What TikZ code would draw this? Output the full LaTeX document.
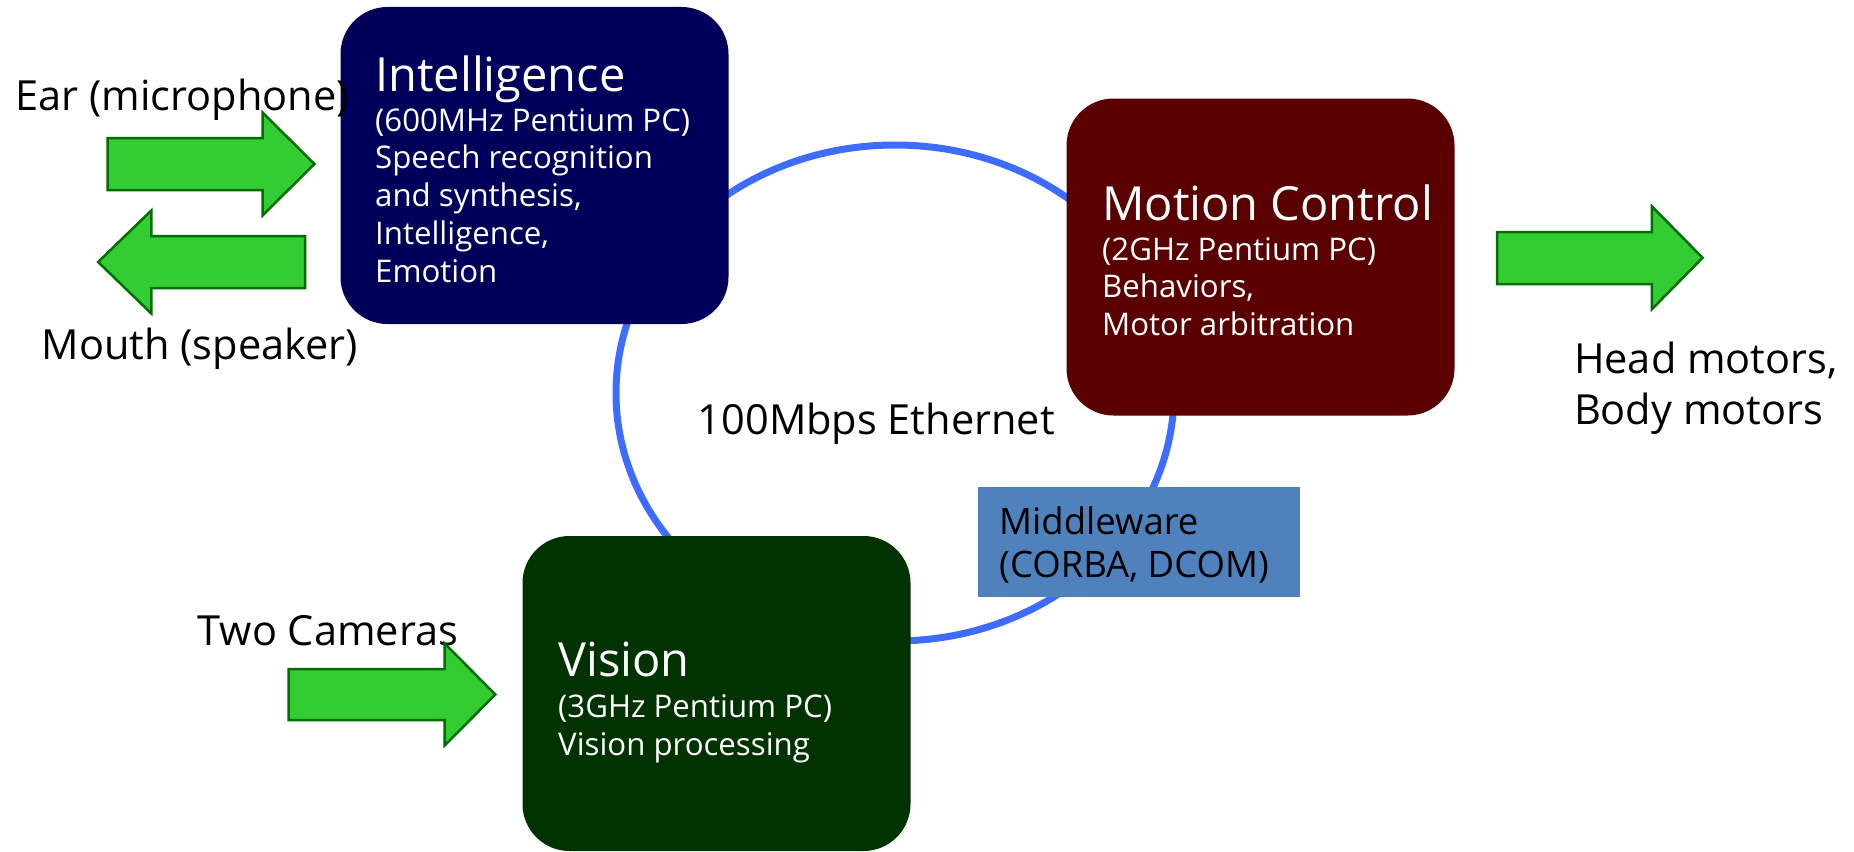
\documentclass[tikz,border=0pt]{standalone}
\usepackage{fontspec}
\setmainfont{Open Sans}
\usetikzlibrary{positioning}

\definecolor{intelblue}{RGB}{0,0,90}
\definecolor{motionred}{RGB}{90,0,0}
\definecolor{visiongreen}{RGB}{0,51,0}
\definecolor{midblue}{RGB}{79,129,189}
\definecolor{ringblue}{RGB}{61,108,255}
\definecolor{arrowgreen}{RGB}{51,204,51}
\definecolor{arrowedge}{RGB}{0,110,0}

\tikzset{
  pcbox/.style={rounded corners=47pt, minimum width=388pt, minimum height=317pt, inner sep=0pt},
  boxtitle/.style={anchor=base west, inner sep=0pt, text=white, font=\fontsize{47}{52}\selectfont},
  boxtext/.style={anchor=base west, inner sep=0pt, text=white, align=left, font=\fontsize{31.2}{37.9}\selectfont},
  sidetext/.style={anchor=base west, inner sep=0pt, align=left, font=\fontsize{41.5}{51}\selectfont},
  greenarrow/.style={fill=arrowgreen, draw=arrowedge, line width=2.5pt, line join=miter},
  ring/.style={draw=ringblue, line width=7pt},
}

\begin{document}
\begin{tikzpicture}[x=1pt,y=1pt,yscale=-1]
\useasboundingbox (0,0) rectangle (1854,851);

% Ethernet ring
\draw [ring] (895,393) ellipse [x radius=279, y radius=248];

% PCs
\node [pcbox, fill=intelblue] (intel) at (534.5,165.5) {};
\node [pcbox, fill=motionred] (motion) at (1260.5,257) {};
\node [pcbox, fill=visiongreen, minimum height=315pt] (vision) at (716.5,693.5) {};
\node [fill=midblue, minimum width=322pt, minimum height=110pt, inner sep=0pt] (middleware) at (1138.7,542) {};

% Box texts (multi-line nodes sit on their last baseline)
\node [boxtitle] (inteltitle) at (375,91) {Intelligence};
\node [boxtext] (inteltext) at (375,282.6) {(600MHz Pentium PC)\\Speech recognition\\and synthesis,\\Intelligence,\\Emotion};
\node [boxtitle] (motiontitle) at (1102,220) {Motion Control};
\node [boxtext] (motiontext) at (1102,335.8) {(2GHz Pentium PC)\\Behaviors,\\Motor arbitration};
\node [boxtitle] (visiontitle) at (558,676) {Vision};
\node [boxtext] (visiontext) at (558,755.5) {(3GHz Pentium PC)\\Vision processing};
\node [anchor=base west, inner sep=0pt, align=left, font=\fontsize{36.5}{42.6}\selectfont] (midtext) at (999,577) {Middleware\\(CORBA, DCOM)};

% Outside labels
\node [sidetext] (ear) at (15.4,110) {Ear (microphone)};
\node [sidetext] (mouth) at (41.4,359.5) {Mouth (speaker)};
\node [sidetext] (cameras) at (197.5,645.6) {Two Cameras};
\node [sidetext] (motors) at (1573.8,424.5) {Head motors,\\Body motors};
\node [sidetext] (ethernet) at (697.6,434) {100Mbps Ethernet};

% Green arrows
\draw [greenarrow] (107.6,138) -- (262.5,138) -- (262.5,112.5) -- (314.5,164) -- (262.5,215.5) -- (262.5,190) -- (107.6,190) -- cycle;
\draw [greenarrow] (305,236) -- (151.3,236) -- (151.3,210.5) -- (98.1,262) -- (151.3,313.5) -- (151.3,288) -- (305,288) -- cycle;
\draw [greenarrow] (1497,232) -- (1651.8,232) -- (1651.8,206.3) -- (1702.6,257.8) -- (1651.8,309.3) -- (1651.8,284) -- (1497,284) -- cycle;
\draw [greenarrow] (288.5,669) -- (444.6,669) -- (444.6,643.5) -- (495.4,694.5) -- (444.6,745.5) -- (444.6,720) -- (288.5,720) -- cycle;

\end{tikzpicture}
\end{document}
